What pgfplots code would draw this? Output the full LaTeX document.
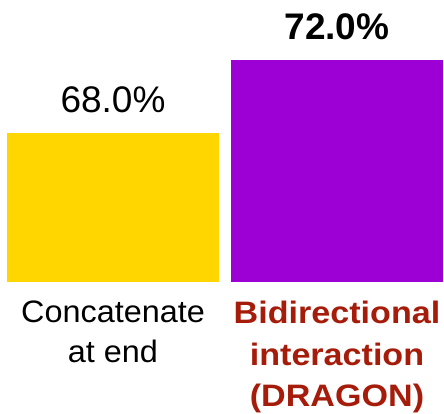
\documentclass[border=0pt]{standalone}
\usepackage{pgfplots}
\pgfplotsset{compat=1.18}
\usepackage{fontspec}
\setmainfont{Liberation Sans}
\newfontfamily\lblfont[FakeStretch=1.045, BoldFeatures={FakeStretch=1.1}]{Liberation Sans}
\definecolor{ybarc}{RGB}{255,214,0}
\definecolor{pbarc}{RGB}{157,0,213}
\definecolor{dred}{RGB}{165,28,10}
\newcommand\dl[1]{\textcolor{dred}{\bfseries #1}}
\begin{document}
\begin{tikzpicture}
\begin{axis}[
  width=444pt, height=282pt, scale only axis,
  xmin=-0.5045, xmax=1.4777, ymin=59.84, ymax=75.29,
  axis line style={draw=none}, ytick=\empty,
  xtick={0,1}, major tick length=0pt,
  xticklabels={{Concatenate\\at end},{\dl{Bidirectional}\\[1.5pt]\dl{interaction}\\[1.5pt]\dl{(DRAGON)}}},
  xticklabel style={align=center, anchor=north, inner sep=0pt, yshift=-19pt, font=\lblfont\fontsize{31}{40}\selectfont},
  ybar, bar width=212pt,
  /pgf/number format/assume math mode=true,
  nodes near coords={\pgfmathprintnumber[fixed,fixed zerofill,precision=1]{\pgfplotspointmeta}\%},
  every node near coord/.append style={anchor=base, yshift=21pt, inner sep=0pt, font=\fontsize{37}{44}\selectfont},
]
\addplot[fill=ybarc, draw=none, bar shift=0pt] coordinates {(0,68.0)};
\addplot[fill=pbarc, draw=none, bar shift=0pt, every node near coord/.append style={font=\fontsize{37}{44}\selectfont\bfseries}] coordinates {(1,72.0)};
\end{axis}
\end{tikzpicture}
\end{document}
